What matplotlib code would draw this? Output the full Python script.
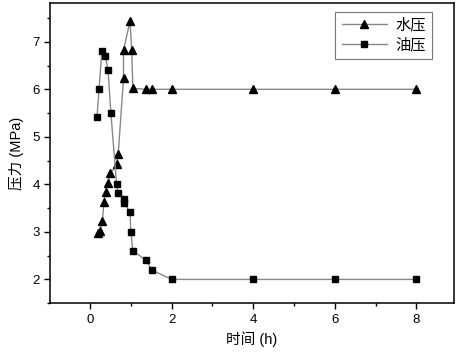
import matplotlib
matplotlib.use('Agg')
import matplotlib.pyplot as plt
from matplotlib.ticker import MultipleLocator

plt.rcParams['font.family'] = ['Liberation Sans', 'Noto Sans CJK SC']

# 水压 (triangles)
t_water = [0.20, 0.24, 0.30, 0.34, 0.38, 0.43, 0.50, 0.65, 0.69, 0.82, 0.82,
           0.98, 1.02, 1.05, 1.37, 1.52, 2.0, 4.0, 6.0, 8.0]
p_water = [2.97, 3.02, 3.22, 3.62, 3.83, 4.03, 4.23, 4.42, 4.63, 6.23, 6.83,
           7.43, 6.83, 6.02, 6.0, 6.0, 6.0, 6.0, 6.0, 6.0]

# 油压 (squares)
t_oil = [0.17, 0.22, 0.29, 0.37, 0.44, 0.51, 0.65, 0.69, 0.82, 0.83, 0.98,
         1.0, 1.05, 1.38, 1.51, 2.0, 4.0, 6.0, 8.0]
p_oil = [5.41, 6.01, 6.81, 6.71, 6.41, 5.51, 4.0, 3.81, 3.70, 3.61, 3.41,
         3.0, 2.6, 2.4, 2.2, 2.0, 2.0, 2.0, 2.0]

fig = plt.figure(figsize=(4.64, 3.55), dpi=100)
ax = fig.add_axes([0.108, 0.146, 0.870, 0.846])

ax.plot(t_water, p_water, color='#888888', lw=1.0, marker='^', ms=6,
        mfc='black', mec='black', label='水压')
ax.plot(t_oil, p_oil, color='#888888', lw=1.0, marker='s', ms=5,
        mfc='black', mec='black', label='油压')

ax.set_xlim(-0.98, 8.92)
ax.set_ylim(1.5, 7.82)
ax.xaxis.set_major_locator(MultipleLocator(2))
ax.xaxis.set_minor_locator(MultipleLocator(1))
ax.yaxis.set_major_locator(MultipleLocator(1))
ax.yaxis.set_minor_locator(MultipleLocator(0.5))
ax.tick_params(which='major', direction='out', length=4, width=1, labelsize=9.5)
ax.tick_params(which='minor', direction='out', length=2.5, width=1)
for s in ax.spines.values():
    s.set_linewidth(1.1)

ax.set_xlabel('时间 (h)', fontsize=10.5, labelpad=4)
ax.set_ylabel('压力 (MPa)', fontsize=10.5, labelpad=6)

leg = ax.legend(loc='upper right', bbox_to_anchor=(0.945, 0.97), fontsize=11,
                frameon=True, fancybox=False, edgecolor='#555555',
                handlelength=3.0, handletextpad=0.5, borderpad=0.4,
                labelspacing=0.35, borderaxespad=0)
leg.get_frame().set_linewidth(0.8)

fig.savefig('out.png', dpi=100)
